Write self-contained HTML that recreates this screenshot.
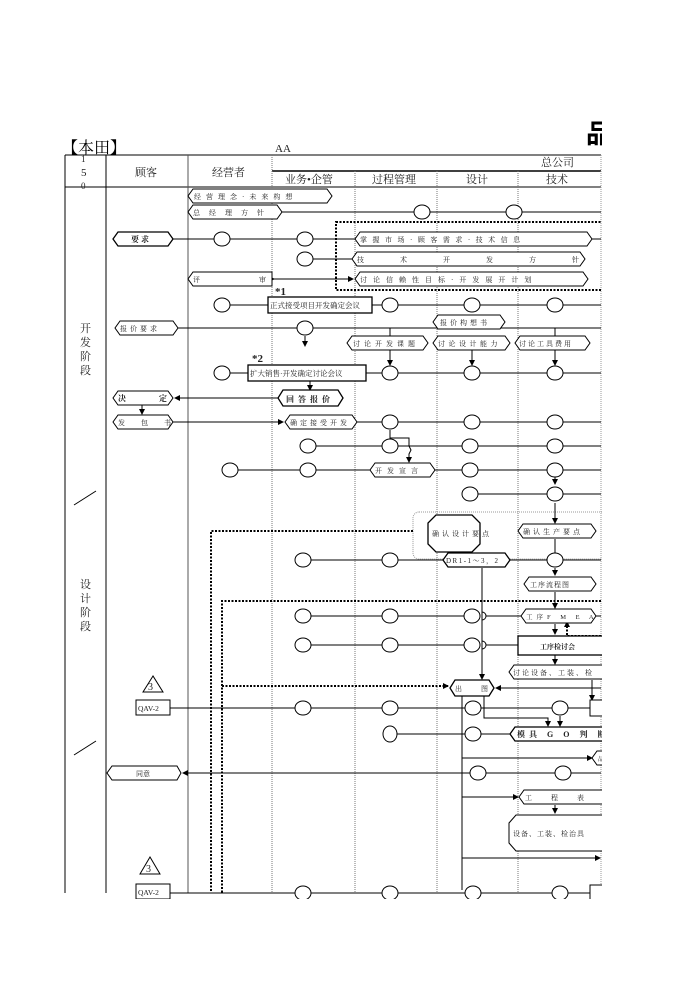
<!DOCTYPE html>
<html><head><meta charset="utf-8"><style>
html,body{margin:0;padding:0;background:#fff;}
svg{display:block}
text{font-family:"Liberation Serif","Noto Serif CJK SC","Noto Sans CJK SC",serif;fill:#222}
.s{font-size:8px;letter-spacing:3px}
.b{font-size:8px;font-weight:bold}
</style></head><body>
<svg width="700" height="990" viewBox="0 0 700 990" xmlns="http://www.w3.org/2000/svg">
<defs><marker id="a" markerUnits="userSpaceOnUse" markerWidth="6" markerHeight="6" refX="5" refY="3" orient="auto"><path d="M0,0 L6,3 L0,6z" fill="#000"/></marker></defs>
<text x="586" y="143" font-size="26" font-weight="bold" style="fill:#000;font-family:'Liberation Sans','Noto Sans CJK SC',sans-serif">品</text>
<g stroke="#000" fill="none" stroke-width="1">
<text x="62" y="153" font-size="16" stroke="none" style="fill:#000">【本田】</text>
<text x="275" y="152" font-size="11" stroke="none">AA</text>
<line x1="65" y1="155" x2="601" y2="155"/>
<line x1="65" y1="187" x2="601" y2="187"/>
<line x1="272" y1="171" x2="601" y2="171" stroke-width="1.5"/>
<line x1="65" y1="155" x2="65" y2="893"/>
<line x1="106" y1="155" x2="106" y2="893"/>
<line x1="188" y1="155" x2="188" y2="893" stroke="#555"/>
<line x1="272" y1="155" x2="272" y2="893" stroke="#777" stroke-dasharray="1,1"/>
<line x1="355" y1="171" x2="355" y2="893" stroke="#777" stroke-dasharray="1,1"/>
<line x1="437" y1="171" x2="437" y2="893" stroke="#777" stroke-dasharray="1,1"/>
<line x1="518" y1="171" x2="518" y2="893" stroke="#777" stroke-dasharray="1,1"/>
<line x1="601" y1="155" x2="601" y2="893" stroke="#999" stroke-dasharray="1,1"/>
<g stroke="none" font-size="11">
<text x="81" y="162" font-size="9">1</text><text x="81" y="176">5</text><text x="81" y="189" font-size="9">0</text>
<text x="135" y="176">顾客</text><text x="212" y="176">经营者</text>
<text x="541" y="166">总公司</text>
<text x="285" y="183">业务•企管</text><text x="372" y="183">过程管理</text>
<text x="466" y="183">设计</text><text x="546" y="183">技术</text>
<text x="80" y="332">开</text><text x="80" y="346">发</text><text x="80" y="360">阶</text><text x="80" y="374">段</text>
<text x="80" y="588">设</text><text x="80" y="602">计</text><text x="80" y="616">阶</text><text x="80" y="630">段</text>
</g>
<line x1="74" y1="505" x2="96" y2="491"/>
<line x1="74" y1="755" x2="96" y2="741"/>
<rect x="336" y="222" width="270" height="68" stroke-width="2" stroke-dasharray="2,1.5"/>
<rect x="413" y="512" width="195" height="47" rx="6" stroke="#999" stroke-dasharray="1,1"/>
<polyline points="413,531 211,531 211,893" stroke-width="2" stroke-dasharray="2,1.5"/>
<polyline points="601,601 222,601 222,893" stroke-width="2" stroke-dasharray="2,1.5"/>
<line x1="222" y1="686" x2="448" y2="686" stroke-width="2" stroke-dasharray="2,1.5" marker-end="url(#a)"/>
<polyline points="601,636 567,636 567,622" stroke-width="2" stroke-dasharray="2,1.5" marker-end="url(#a)"/>
<line x1="282" y1="212" x2="601" y2="212"/>
<line x1="173" y1="239" x2="355" y2="239"/><line x1="592" y1="239" x2="601" y2="239"/>
<line x1="305" y1="259" x2="352" y2="259"/>
<line x1="274" y1="279" x2="353" y2="279" marker-end="url(#a)" marker-start="url(#a)"/>
<line x1="222" y1="305" x2="601" y2="305"/>
<line x1="178" y1="328" x2="601" y2="328"/>
<line x1="222" y1="373" x2="601" y2="373"/>
<line x1="390" y1="328" x2="390" y2="336"/><line x1="555" y1="328" x2="555" y2="336"/>
<line x1="305" y1="336" x2="305" y2="346" marker-end="url(#a)"/>
<line x1="390" y1="350" x2="390" y2="365" marker-end="url(#a)"/>
<line x1="472" y1="350" x2="472" y2="365" marker-end="url(#a)"/>
<line x1="555" y1="350" x2="555" y2="365" marker-end="url(#a)"/>
<line x1="310" y1="381" x2="310" y2="390" marker-end="url(#a)"/>
<line x1="278" y1="398" x2="175" y2="398" marker-end="url(#a)"/>
<line x1="142" y1="405" x2="142" y2="414" marker-end="url(#a)"/>
<line x1="173" y1="422" x2="283" y2="422" marker-end="url(#a)"/>
<line x1="357" y1="422" x2="601" y2="422"/>
<line x1="308" y1="446" x2="601" y2="446"/>
<polyline points="390,430 390,438 409,438 409,446 411,450 409,454 409,462" marker-end="url(#a)"/>
<line x1="230" y1="470" x2="370" y2="470"/><line x1="435" y1="470" x2="601" y2="470"/>
<line x1="470" y1="494" x2="601" y2="494"/>
<line x1="555" y1="470" x2="555" y2="484" marker-end="url(#a)"/>
<line x1="555" y1="503" x2="555" y2="523" marker-end="url(#a)"/>
<line x1="555" y1="539" x2="555" y2="560"/>
<line x1="303" y1="560" x2="443" y2="560"/><line x1="510" y1="560" x2="601" y2="560"/>
<line x1="555" y1="568" x2="555" y2="575" marker-end="url(#a)"/>
<line x1="555" y1="592" x2="555" y2="608" marker-end="url(#a)"/>
<line x1="303" y1="616" x2="479" y2="616"/><line x1="486" y1="616" x2="521" y2="616"/><line x1="596" y1="616" x2="601" y2="616"/>
<line x1="303" y1="645" x2="479" y2="645"/><line x1="486" y1="645" x2="518" y2="645"/>
<path d="M482,612 a4,4 0 0 1 0,8"/><path d="M482,641 a4,4 0 0 1 0,8"/>
<line x1="555" y1="624" x2="555" y2="634" marker-end="url(#a)"/>
<line x1="555" y1="655" x2="555" y2="664" marker-end="url(#a)"/>
<line x1="482" y1="568" x2="482" y2="679" marker-end="url(#a)"/>
<line x1="601" y1="688" x2="496" y2="688" marker-end="url(#a)"/>
<polyline points="592,680 592,700" marker-end="url(#a)"/>
<line x1="170" y1="708" x2="590" y2="708"/>
<polyline points="462,696 462,890"/>
<polyline points="484,696 484,718 548,718 548,726" marker-end="url(#a)"/>
<line x1="560" y1="716" x2="560" y2="726" marker-end="url(#a)"/>
<line x1="390" y1="734" x2="510" y2="734"/>
<line x1="462" y1="758" x2="592" y2="758" marker-end="url(#a)"/>
<line x1="601" y1="773" x2="183" y2="773" marker-end="url(#a)"/>
<line x1="462" y1="797" x2="518" y2="797" marker-end="url(#a)"/>
<line x1="555" y1="805" x2="555" y2="813" marker-end="url(#a)"/>
<line x1="462" y1="858" x2="600" y2="858" marker-end="url(#a)"/>
<line x1="170" y1="893" x2="601" y2="893"/>
<g fill="#fff">
<ellipse cx="422" cy="212" rx="8" ry="7"/><ellipse cx="514" cy="212" rx="8" ry="7"/>
<ellipse cx="222" cy="239" rx="8" ry="7"/><ellipse cx="305" cy="239" rx="8" ry="7"/>
<ellipse cx="305" cy="259" rx="8" ry="7"/>
<ellipse cx="222" cy="305" rx="8" ry="7"/><ellipse cx="390" cy="305" rx="8" ry="7"/><ellipse cx="472" cy="305" rx="8" ry="7"/><ellipse cx="555" cy="305" rx="8" ry="7"/>
<ellipse cx="305" cy="328" rx="8" ry="7"/>
<ellipse cx="222" cy="373" rx="8" ry="7"/><ellipse cx="390" cy="373" rx="8" ry="7"/><ellipse cx="472" cy="373" rx="8" ry="7"/><ellipse cx="555" cy="373" rx="8" ry="7"/>
<ellipse cx="390" cy="422" rx="8" ry="7"/><ellipse cx="472" cy="422" rx="8" ry="7"/><ellipse cx="555" cy="422" rx="8" ry="7"/>
<ellipse cx="308" cy="446" rx="8" ry="7"/><ellipse cx="390" cy="446" rx="8" ry="7"/><ellipse cx="470" cy="446" rx="8" ry="7"/><ellipse cx="555" cy="446" rx="8" ry="7"/>
<ellipse cx="230" cy="470" rx="8" ry="7"/><ellipse cx="308" cy="470" rx="8" ry="7"/><ellipse cx="470" cy="470" rx="8" ry="7"/><ellipse cx="555" cy="470" rx="8" ry="7"/>
<ellipse cx="470" cy="494" rx="8" ry="7"/><ellipse cx="555" cy="494" rx="8" ry="7"/>
<ellipse cx="303" cy="560" rx="8" ry="7"/><ellipse cx="390" cy="560" rx="8" ry="7"/><ellipse cx="555" cy="560" rx="8" ry="7"/>
<ellipse cx="303" cy="616" rx="8" ry="7"/><ellipse cx="390" cy="616" rx="8" ry="7"/><ellipse cx="472" cy="616" rx="8" ry="7"/>
<ellipse cx="303" cy="645" rx="8" ry="7"/><ellipse cx="390" cy="645" rx="8" ry="7"/><ellipse cx="472" cy="645" rx="8" ry="7"/>
<ellipse cx="303" cy="708" rx="8" ry="7"/><ellipse cx="390" cy="708" rx="8" ry="7"/><ellipse cx="473" cy="708" rx="8" ry="7"/><ellipse cx="560" cy="708" rx="8" ry="7"/>
<ellipse cx="390" cy="734" rx="7" ry="8"/><ellipse cx="473" cy="734" rx="8" ry="7"/>
<ellipse cx="478" cy="773" rx="8" ry="7"/><ellipse cx="563" cy="773" rx="8" ry="7"/>
<ellipse cx="303" cy="893" rx="8" ry="7"/><ellipse cx="390" cy="893" rx="8" ry="7"/><ellipse cx="473" cy="893" rx="8" ry="7"/><ellipse cx="560" cy="893" rx="8" ry="7"/>
</g>
<g fill="#fff">
<polygon points="193,189 327,189 332,196 327,203 193,203 188,196"/>
<polygon points="193,205 277,205 282,212 277,219 193,219 188,212"/>
<polygon points="118,232 168,232 173,239 168,246 118,246 113,239" stroke-width="1.3"/>
<polygon points="360,232 587,232 592,239 587,246 360,246 355,239"/>
<polygon points="357,252 580,252 585,259 580,266 357,266 352,259"/>
<polygon points="193,272 272,272 272,286 193,286 188,279"/>
<polygon points="360,272 583,272 588,279 583,286 360,286 355,279"/>
<rect x="268" y="297" width="104" height="16" stroke-width="1.3"/>
<polygon points="120,321 173,321 178,328 173,335 120,335 115,328"/>
<polygon points="438,315 500,315 505,322 500,329 438,329 433,322"/>
<polygon points="352,336 423,336 428,343 423,350 352,350 347,343"/>
<polygon points="438,336 505,336 510,343 505,350 438,350 433,343"/>
<polygon points="520,336 585,336 590,343 585,350 520,350 515,343"/>
<rect x="248" y="365" width="118" height="16" stroke-width="1.3"/>
<polygon points="283,390 338,390 343,398 338,406 283,406 278,398" stroke-width="1.3"/>
<polygon points="118,391 168,391 173,398 168,405 118,405 113,398"/>
<polygon points="118,415 168,415 173,422 168,429 118,429 113,422"/>
<polygon points="290,415 352,415 357,422 352,429 290,429 285,422"/>
<polygon points="375,463 430,463 435,470 430,477 375,477 370,470"/>
<polygon points="436,515 472,515 480,523 480,544 472,552 436,552 428,544 428,523" stroke-width="1.3"/>
<polygon points="523,524 591,524 596,531 591,538 523,538 518,531"/>
<polygon points="448,553 505,553 510,560 505,567 448,567 443,560" stroke-width="1.3"/>
<polygon points="529,577 591,577 596,584 591,591 529,591 524,584"/>
<polygon points="526,609 591,609 596,616 591,623 526,623 521,616"/>
<rect x="518" y="636" width="90" height="19" stroke-width="1.3"/>
<polygon points="514,665 608,665 608,679 514,679 509,672"/>
<polygon points="455,680 489,680 494,688 489,696 455,696 450,688" stroke-width="1.3"/>
<polygon points="153,676 143,692 163,692"/>
<rect x="136" y="700" width="34" height="15"/>
<path d="M590,700 h18 v16 h-18 z"/>
<polygon points="515,727 608,727 608,741 515,741 510,734" stroke-width="1.3"/>
<polygon points="597,751 608,751 608,765 597,765 592,758"/>
<polygon points="112,766 177,766 181,773 177,780 112,780 107,773"/>
<polygon points="524,790 608,790 608,804 524,804 519,797"/>
<polygon points="516,815 608,815 608,851 516,851 509,843 509,823"/>
<polygon points="150,857 140,874 160,874"/>
<rect x="136" y="884" width="34" height="15"/>
<path d="M590,885 h18 v16 h-18 z"/>
</g>
<g stroke="none">
<text x="194" y="199" font-size="7" letter-spacing="5">经营理念·未来构想</text>
<text x="193" y="215" font-size="7" letter-spacing="9">总经理方针</text>
<text x="131" y="242" class="b">要 求</text>
<text x="360" y="242" font-size="7" letter-spacing="5.5">掌握市场·顾客需求·技术信息</text>
<text x="357" y="262" font-size="7" letter-spacing="36">技术开发方针</text>
<text x="193" y="282" font-size="7">评</text><text x="259" y="282" font-size="7">审</text>
<text x="360" y="282" font-size="7" letter-spacing="6">讨论信赖性目标·开发展开计划</text>
<text x="275" y="295" font-size="11" font-weight="bold">*1</text>
<text x="270" y="308" font-size="7.5">正式接受项目开发确定会议</text>
<text x="120" y="331" font-size="7" letter-spacing="3">报价要求</text>
<text x="440" y="325" font-size="7" letter-spacing="3">报价构想书</text>
<text x="353" y="346" font-size="7" letter-spacing="4">讨论开发课题</text>
<text x="438" y="346" font-size="7" letter-spacing="3.5">讨论设计能力</text>
<text x="519" y="346" font-size="7" letter-spacing="2">讨论工具费用</text>
<text x="252" y="362" font-size="11" font-weight="bold">*2</text>
<text x="250" y="376" font-size="7.5">扩大销售·开发确定讨论会议</text>
<text x="286" y="402" class="b" letter-spacing="4">回答报价</text>
<text x="118" y="401" class="b">决</text><text x="159" y="401" class="b">定</text>
<text x="118" y="425" font-size="7" letter-spacing="16">发包书</text>
<text x="290" y="425" font-size="7" letter-spacing="3">确定接受开发</text>
<text x="375" y="473" font-size="7" letter-spacing="5">开发宣言</text>
<text x="432" y="536" font-size="7" letter-spacing="3">确认设计要点</text>
<text x="523" y="534" font-size="7" letter-spacing="3">确认生产要点</text>
<text x="446" y="563" font-size="7" letter-spacing="1.5">DR1-1～3，2</text>
<text x="530" y="587" font-size="7" letter-spacing="1">工序流程图</text>
<text x="526" y="619" font-size="6.5" letter-spacing="4">工序F M E A</text>
<text x="540" y="649" font-size="7" font-weight="bold">工序检讨会</text>
<text x="513" y="675" font-size="7" letter-spacing="2">讨论设备、工装、检</text>
<text x="455" y="691" font-size="7">出</text><text x="481" y="691" font-size="7">图</text>
<text x="148" y="690" font-size="10">3</text>
<text x="138" y="711" font-size="7.5" font-family="Liberation Sans">QAV-2</text>
<text x="517" y="737" class="b" letter-spacing="4">模具 G O 判 断</text>
<text x="598" y="761" font-size="6">品</text>
<text x="136" y="776" font-size="7">同意</text>
<text x="525" y="800" font-size="7" letter-spacing="19">工程表</text>
<text x="513" y="836" font-size="7" letter-spacing="1">设备、工装、检治具</text>
<text x="146" y="872" font-size="10">3</text>
<text x="138" y="895" font-size="7.5" font-family="Liberation Sans">QAV-2</text>
</g>
</g>
<rect x="602" y="100" width="98" height="890" fill="#fff"/>
<rect x="0" y="899" width="700" height="91" fill="#fff"/>
</svg>
</body></html>
